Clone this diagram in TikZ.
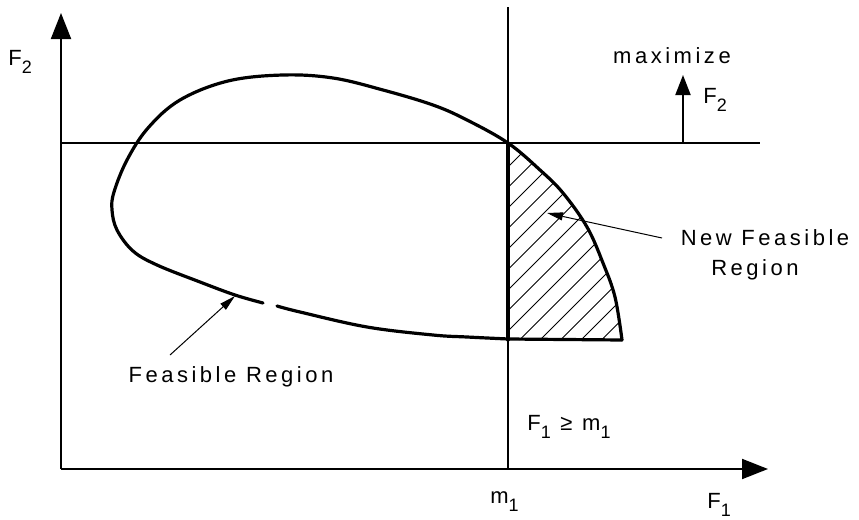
\documentclass[tikz,border=0pt]{standalone}
\usepackage{fontspec}
\setmainfont{Liberation Sans}[LetterSpace=16]
\usetikzlibrary{arrows.meta}
\newcommand{\lowsub}[1]{\raisebox{-4.2pt}{\fontsize{9}{10}\selectfont #1}}
\tikzset{
  axisline/.style={line width=1pt},
  bigtip/.style={-{Triangle[length=13pt,width=10pt]}},
  curveline/.style={line width=1.6pt, line join=round, line cap=round},
  hatchline/.style={line width=0.5pt},
  leader/.style={line width=0.5pt, -{Triangle[length=8pt,width=4pt]}},
  lbl/.style={inner sep=0pt, font=\fontsize{11}{13}\selectfont}
}
\begin{document}
\begin{tikzpicture}[x=0.5pt,y=-0.5pt]
\useasboundingbox (0,0) rectangle (859,520);
% axes and constraint lines
\coordinate (O) at (61,469);
\coordinate (ytip) at (61,13);
\coordinate (xtip) at (768,469);
\coordinate (hl) at (61,143);
\coordinate (hr) at (760,143);
\coordinate (vt) at (508,7);
\coordinate (vb) at (508,469);
\coordinate (mb) at (683,143);
\coordinate (mt) at (683,75);
\draw[axisline,bigtip] (O) -- (ytip);
\draw[axisline,bigtip] (O) -- (xtip);
\draw[axisline] (hl) -- (hr);
\draw[axisline] (vt) -- (vb);
\draw[axisline,-{Triangle[length=10pt,width=7.5pt]}] (mb) -- (mt);
% hatching of the new feasible region
\begin{scope}
\clip (508,143) -- (508,340) -- (622,340) -- plot[smooth,tension=0.6] coordinates {(622,340) (615,297) (603,263) (587,227) (563,193) (540,170) (508,143)} -- cycle;
\foreach \c in {654.5,675,...,980} \draw[hatchline] (480,\c-480) -- (660,\c-660);
\end{scope}
\draw[curveline] (508,143) -- (508,340);
% feasible region boundary
\draw[curveline] plot[smooth,tension=0.6] coordinates {(622,340) (615,297) (603,263) (587,227) (563,193) (540,170) (508,143) (467,120) (433,105) (383,90) (333,78) (283,75) (228,81) (180,100) (148,128) (127,160) (114,192) (112,210) (117,230) (133,251) (157,265) (200,282) (235,295) (263,303)};
\draw[curveline] plot[smooth,tension=0.6] coordinates {(277,306) (300,312) (367,327) (433,335) (467,337) (508,339)} -- (622,340);
% labels
\node[lbl,anchor=base west] (f2) at (8,65) {F\lowsub{2}};
\node[lbl,anchor=base] (max) at (672,63) {maximize};
\node[lbl,anchor=base west] (f2m) at (703,103) {F\lowsub{2}};
\node[lbl,anchor=base] (nf1) at (765,245) {New Feasible};
\node[lbl,anchor=base] (nf2) at (755,275) {Region};
\node[lbl,anchor=base] (fr) at (231,382) {Feasible Region};
\node[lbl,anchor=base west] (cons) at (527,430) {F\lowsub{1} ≥ m\lowsub{1}};
\node[lbl,anchor=base west] (m1) at (490,503) {m\lowsub{1}};
\node[lbl,anchor=base west] (f1) at (707,508) {F\lowsub{1}};
% leaders
\coordinate (frs) at (170,355);
\coordinate (frt) at (235,296);
\coordinate (nfs) at (662,238);
\coordinate (nft) at (547,213);
\draw[leader] (frs) -- (frt);
\draw[leader] (nfs) -- (nft);
\end{tikzpicture}
\end{document}
